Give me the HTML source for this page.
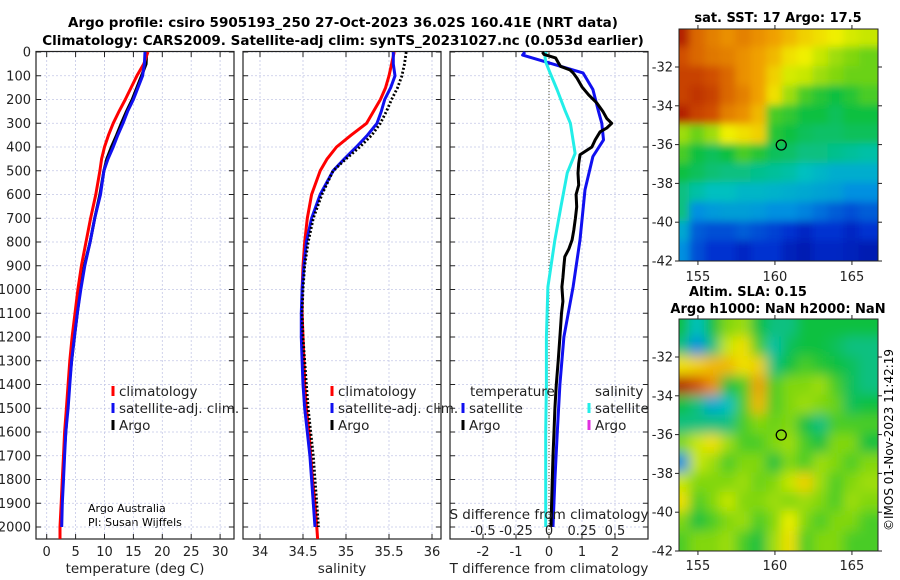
<!DOCTYPE html>
<html><head><meta charset="utf-8"><style>
html,body{margin:0;padding:0;background:#fff;overflow:hidden}
svg{display:block;font-family:"DejaVu Sans","Liberation Sans",sans-serif}
</style></head><body>
<svg id="c" width="900" height="580" viewBox="0 0 900 580" xmlns="http://www.w3.org/2000/svg">
<text x="343" y="27" font-size="13.5" font-weight="bold" text-anchor="middle">Argo profile: csiro 5905193_250 27-Oct-2023 36.02S 160.41E (NRT data)</text>
<text x="343" y="45" font-size="13.5" font-weight="bold" text-anchor="middle">Climatology: CARS2009. Satellite-adj clim: synTS_20231027.nc (0.053d earlier)</text>
<text x="778" y="22" font-size="13" font-weight="bold" text-anchor="middle">sat. SST: 17 Argo: 17.5</text>
<text x="748" y="296" font-size="13" font-weight="bold" text-anchor="middle">Altim. SLA: 0.15</text>
<text x="778" y="313" font-size="13" font-weight="bold" text-anchor="middle">Argo h1000: NaN h2000: NaN</text>
<text transform="translate(893,440) rotate(-90)" font-size="12" text-anchor="middle">©IMOS 01-Nov-2023 11:42:19</text>
<text x="88" y="512" font-size="11">Argo Australia</text>
<text x="88" y="526" font-size="11">PI: Susan Wijffels</text>
<g id="g"></g>
</svg>
<script>
// ---- profile data ----
const depths = [0,50,100,150,200,250,300,350,400,450,500,600,700,800,900,1000,1100,1200,1300,1400,1500,1600,1700,1800,1900,2000,2050];
const tempClim = [17.5,16.8,15.6,14.6,13.6,12.5,11.5,10.7,10.0,9.5,9.2,8.5,7.6,6.8,6.0,5.4,4.9,4.4,4.0,3.7,3.4,3.1,2.9,2.7,2.5,2.3,2.3];
const tempSat = [17.0,16.9,16.6,15.8,15.0,14.0,13.2,12.3,11.5,10.6,9.9,9.3,8.3,7.5,6.6,5.9,5.3,4.8,4.3,4.0,3.7,3.3,3.1,2.9,2.7,2.6];
const tempArgo = [17.3,17.2,16.4,15.6,14.8,13.8,12.9,12.1,11.2,10.4,9.9,9.2,8.3,7.5,6.5,5.8,5.3,4.8,4.3,3.9,3.6,3.3,3.0,2.8,2.6,2.5];
const salClim = [35.56,35.53,35.50,35.46,35.40,35.32,35.24,35.06,34.89,34.78,34.70,34.60,34.55,34.52,34.50,34.49,34.49,34.50,34.51,34.52,34.54,34.57,34.59,34.61,34.64,34.66,34.67];
const salSat = [35.55,35.55,35.57,35.52,35.45,35.41,35.36,35.25,35.12,34.98,34.85,34.70,34.60,34.54,34.51,34.49,34.48,34.48,34.49,34.50,34.52,34.55,34.58,34.60,34.62,34.64];
const salArgo = [35.70,35.68,35.65,35.60,35.53,35.47,35.40,35.30,35.16,35.00,34.85,34.72,34.62,34.56,34.52,34.50,34.49,34.50,34.52,34.54,34.56,34.59,34.62,34.64,34.66,34.68];
const argoTdiffDepths = [0,10,25,42,60,76,88,110,147,180,215,252,280,300,320,336,370,400,433,470,510,560,600,652,700,750,791,830,862,900,950,989,1050,1100,1200,1300,1400,1500,1600,1700,1800,1900,2000];
const argoTdiff = [-0.2,-0.15,0.2,0.27,0.35,0.64,0.73,0.85,1.0,1.2,1.45,1.64,1.75,1.9,1.75,1.55,1.4,1.3,0.94,0.9,0.88,0.9,0.82,0.84,0.8,0.75,0.70,0.6,0.48,0.45,0.42,0.39,0.42,0.38,0.33,0.28,0.22,0.18,0.15,0.12,0.1,0.08,0.06];
const satTdiffDepths = [0,13,88,158,250,300,370,440,580,791,989,1200,1400,1600,1800,2000];
const satTdiff = [-0.73,-0.8,1.03,1.33,1.5,1.6,1.65,1.33,1.09,0.94,0.73,0.45,0.33,0.25,0.18,0.12];
const satSdiffDepths = [0,20,42,88,160,244,300,370,427,510,652,791,989,1200,1400,1600,1800,2000];
const satSdiff = [-0.022,-0.03,-0.025,0.008,0.062,0.12,0.162,0.182,0.198,0.138,0.09,0.045,-0.008,-0.02,-0.02,-0.025,-0.025,-0.025];
const depthTicks = [0,100,200,300,400,500,600,700,800,900,1000,1100,1200,1300,1400,1500,1600,1700,1800,1900,2000];
const tempTicks = [0,5,10,15,20,25,30];
const salTicks = [34,34.5,35,35.5,36];
const tdiffTicks = [-2,-1,0,1,2];
const sdiffTicks = [-0.5,-0.25,0,0.25,0.5];
// ---- map data (colour index 0..1, rows lat -30..-42, cols lon 154..166) ----
const sstGrid = [
[.95,.85,.82,.8,.82,.8,.78,.75,.72,.7,.68,.66,.65],
[.88,.85,.83,.82,.8,.78,.75,.7,.68,.65,.62,.6,.58],
[.9,.9,.88,.85,.8,.78,.72,.66,.65,.62,.6,.58,.58],
[.9,.92,.9,.85,.82,.78,.7,.62,.55,.52,.5,.52,.55],
[.95,.9,.88,.82,.8,.75,.55,.53,.5,.5,.48,.5,.5],
[.62,.58,.62,.68,.7,.72,.52,.5,.48,.47,.47,.48,.48],
[.55,.5,.48,.5,.55,.52,.48,.47,.45,.45,.44,.43,.42],
[.5,.48,.46,.45,.45,.44,.43,.42,.4,.38,.36,.36,.36],
[.45,.42,.4,.4,.38,.38,.37,.36,.35,.34,.33,.3,.3],
[.45,.3,.32,.33,.33,.32,.3,.3,.28,.25,.22,.2,.22],
[.35,.22,.2,.2,.22,.2,.18,.15,.12,.15,.15,.12,.15],
[.3,.2,.15,.15,.12,.15,.15,.1,.08,.12,.12,.1,.08]];
const slaGrid = [
[.5,.4,.5,.6,.62,.5,.45,.45,.5,.5,.5,.5,.5],
[.45,.3,.45,.65,.7,.55,.42,.48,.5,.5,.48,.45,.45],
[.7,.72,.75,.75,.7,.72,.45,.5,.55,.52,.5,.48,.45],
[.95,.88,.8,.5,.55,.78,.55,.6,.6,.62,.55,.48,.45],
[.5,.45,.35,.4,.55,.75,.55,.6,.62,.6,.58,.48,.5],
[.45,.45,.45,.45,.55,.6,.58,.6,.5,.45,.55,.55,.55],
[.6,.65,.7,.62,.55,.55,.6,.62,.55,.5,.6,.6,.5],
[.3,.65,.62,.55,.6,.6,.5,.6,.55,.62,.6,.55,.6],
[.65,.6,.6,.6,.62,.58,.6,.65,.72,.62,.55,.6,.62],
[.7,.55,.6,.65,.6,.6,.62,.6,.62,.6,.55,.62,.6],
[.6,.5,.55,.6,.62,.55,.6,.68,.6,.55,.6,.6,.55],
[.55,.6,.6,.62,.55,.5,.62,.7,.55,.6,.6,.55,.55]];
const latTicks = [-32,-34,-36,-38,-40,-42];
const lonTicks = [155,160,165];
const argoLon = 160.41, argoLat = -36.02;

const NS='http://www.w3.org/2000/svg';
const G=document.getElementById('g');
function mk(tag,attrs,parent){const e=document.createElementNS(NS,tag);for(const k in attrs)e.setAttribute(k,attrs[k]);(parent||G).appendChild(e);return e;}
const Y0=52, YS=0.2375, YB=539;
const yD=d=>Y0+YS*d;
const xT=t=>46.7+5.78*t;
const xS=s=>260+86*(s-34);
const xTd=v=>549+33*v;
const xSd=v=>549+132*v;
const panels=[{l:36,r:234,ticks:tempTicks,fx:xT,lab:'temperature (deg C)',name:'temperature'},
 {l:243,r:441,ticks:salTicks,fx:xS,lab:'salinity',name:'salinity'},
 {l:450,r:648,ticks:tdiffTicks,fx:xTd,lab:'T difference from climatology',name:'difference'}];
panels.forEach((p,pi)=>{
  const pg=mk('g',{});
  
  
  depthTicks.forEach(d=>{mk('line',{x1:p.l,x2:p.r,y1:yD(d),y2:yD(d),stroke:'#c4c8e6','stroke-width':0.8,'stroke-dasharray':'2,2'},pg);
    mk('line',{x1:p.l,x2:p.l+5,y1:yD(d),y2:yD(d),stroke:'#222'},pg);mk('line',{x1:p.r-5,x2:p.r,y1:yD(d),y2:yD(d),stroke:'#222'},pg);
    if(pi===0){const t=mk('text',{x:31,y:yD(d)+4.5,'font-size':13,'text-anchor':'end',fill:'#222'});t.textContent=d;
      }
  });
  p.ticks.forEach(v=>{const x=p.fx(v);
    mk('line',{x1:x,x2:x,y1:Y0,y2:YB,stroke:'#c4c8e6','stroke-width':0.8,'stroke-dasharray':'2,2'},pg);
    mk('line',{x1:x,x2:x,y1:YB-5,y2:YB,stroke:'#222'},pg);mk('line',{x1:x,x2:x,y1:Y0,y2:Y0+5,stroke:'#222'},pg);
    const t=mk('text',{x:x,y:556,'font-size':13,'text-anchor':'middle',fill:'#222'},pg);t.textContent=v;
    });
  const lt=mk('text',{x:(p.l+p.r)/2,y:573,'font-size':13.5,'text-anchor':'middle',fill:'#222'},pg);lt.textContent=p.lab;
  
  mk('rect',{x:p.l,y:Y0-0.5,width:p.r-p.l,height:YB-Y0+0.5,fill:'none',stroke:'#222','stroke-width':1.2},pg);
});
function series(xs,ds,fx,color,w,dash,name){
  const pts=xs.map((v,i)=>fx(v).toFixed(1)+','+yD(ds[i]).toFixed(1)).join(' ');
  const a={points:pts,fill:'none',stroke:color,'stroke-width':w,'stroke-linejoin':'round'};if(dash)a['stroke-dasharray']=dash;
  const e=mk('polyline',a);
  
  
}
series(tempArgo,depths,xT,'#000',3,null,'temperature-argo-line');
series(tempClim,depths,xT,'#f00',3,null,'temperature-climatology-line');
series(tempSat,depths,xT,'#1010f0',3,null,'temperature-satellite-line');
series(salClim,depths,xS,'#f00',3,null,'salinity-climatology-line');
series(salSat,depths,xS,'#1010f0',3,null,'salinity-satellite-line');
series(salArgo,depths,xS,'#000',2.8,'2,2','salinity-argo-line');
const z=mk('line',{x1:xTd(0),x2:xTd(0),y1:Y0,y2:YB,stroke:'#505030','stroke-width':1,'stroke-dasharray':'1,2'});


series(satTdiff,satTdiffDepths,xTd,'#1010f0',3,null,'sat-t-diff-line');
series(satSdiff,satSdiffDepths,xSd,'#22eee8',3,null,'sat-s-diff-line');
series(argoTdiff,argoTdiffDepths,xTd,'#000',3,null,'argo-t-diff-line');
sdiffTicks.forEach(v=>{const t=mk('text',{x:xSd(v),y:535,'font-size':13,'text-anchor':'middle',fill:'#222'});t.textContent=v;
  
  });
const sdt=mk('text',{x:549,y:519,'font-size':13.5,'text-anchor':'middle',fill:'#222'});sdt.textContent='S difference from climatology';


function leg(x,y,color,label){const g=mk('g',{});
  
  
  mk('line',{x1:x,x2:x,y1:y-10,y2:y,stroke:color,'stroke-width':3},g);
  const t=mk('text',{x:x+6,y:y,'font-size':13.5,fill:'#222'},g);t.textContent=label;}
leg(113,396,'#f00','climatology');leg(113,413,'#1010f0','satellite-adj. clim.');leg(113,430,'#000','Argo');
leg(332,396,'#f00','climatology');leg(332,413,'#1010f0','satellite-adj. clim.');leg(332,430,'#000','Argo');
const th=mk('text',{x:470,y:396,'font-size':13.5,fill:'#222'});th.textContent='temperature';

const sh=mk('text',{x:595,y:396,'font-size':13.5,fill:'#222'});sh.textContent='salinity';

leg(463,413,'#1010f0','satellite');leg(463,430,'#000','Argo');
leg(589,413,'#22eee8','satellite');leg(589,430,'#e030e0','Argo');
// maps
const stops=[[0,[0,0,144]],[.15,[0,48,208]],[.3,[0,144,224]],[.4,[0,192,192]],[.5,[16,192,64]],[.6,[130,215,10]],[.68,[240,240,0]],[.78,[240,160,0]],[.88,[208,80,0]],[1,[160,0,0]]];
function cmap(v){for(let i=1;i<stops.length;i++){if(v<=stops[i][0]){const a=stops[i-1],b=stops[i],f=(v-a[0])/(b[0]-a[0]);
  return 'rgb('+a[1].map((c,k)=>Math.round(c+(b[1][k]-c)*f)).join(',')+')';}}return 'rgb(160,0,0)';}
const defs=mk('defs',{});
[{top:29,bot:261,grid:sstGrid,name:'sst-map',lonLab:281,blur:'4'},{top:319,bot:551,grid:slaGrid,name:'sla-map',lonLab:570,blur:'6'}].forEach((m,mi)=>{
  const L=679,R=878, lonX=lon=>L+(lon-153.77)*15.4, latY=lat=>m.bot-(lat+42)*19.4;
  const cp=mk('clipPath',{id:'cp'+mi},defs);mk('rect',{x:L,y:m.top,width:R-L,height:m.bot-m.top},cp);
  const f2=mk('filter',{id:'bf'+mi,x:'-5%',y:'-5%',width:'110%',height:'110%'},defs);mk('feGaussianBlur',{stdDeviation:m.blur},f2);
  const outer=mk('g',{'clip-path':'url(#cp'+mi+')'});
  
  
  const mg=mk('g',{filter:'url(#bf'+mi+')'},outer);
  m.grid.forEach((row,ri)=>row.forEach((v,ci)=>{
    const lon0=154+ci-0.5, lat0=-30-ri;
    const ext=(ci===0?20:0), extR=(ci===row.length-1?20:0), extT=(ri===0?20:0), extB=(ri===m.grid.length-1?20:0);
    const x1=lonX(lon0)-ext,y1=latY(lat0)-extT,x2=lonX(lon0+1)+extR,y2=latY(lat0-1)+extB;
    const r=mk('rect',{x:x1-1,y:y1-1,width:x2-x1+2,height:y2-y1+2,fill:cmap(v)},mg);
    
    
  }));
  const c=mk('circle',{cx:lonX(argoLon),cy:latY(argoLat),r:5,fill:'none',stroke:'#000','stroke-width':1.3});
  
  
  mk('rect',{x:L,y:m.top,width:R-L,height:m.bot-m.top,fill:'none',stroke:'#222','stroke-width':1});
  latTicks.forEach(lat=>{const y=latY(lat);mk('line',{x1:L-4,x2:L,y1:y,y2:y,stroke:'#222'});mk('line',{x1:R,x2:R+4,y1:y,y2:y,stroke:'#222'});
    const t=mk('text',{x:L-6,y:y+4.5,'font-size':13,'text-anchor':'end',fill:'#222'});t.textContent=lat;
    });
  lonTicks.forEach(lon=>{const x=lonX(lon);mk('line',{x1:x,x2:x,y1:m.bot,y2:m.bot+4,stroke:'#222'});mk('line',{x1:x,x2:x,y1:m.top-4,y2:m.top,stroke:'#222'});
    const t=mk('text',{x:x,y:m.lonLab,'font-size':13,'text-anchor':'middle',fill:'#222'});t.textContent=lon;
    });
});
</script>
</body></html>
